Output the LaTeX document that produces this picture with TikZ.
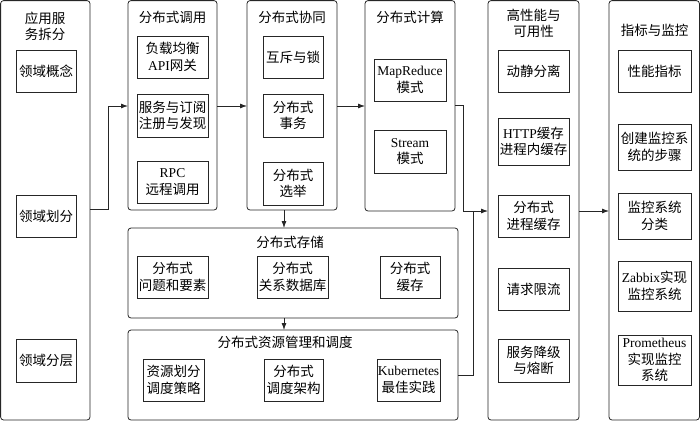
\documentclass[tikz,border=0pt]{standalone}
\usepackage{fontspec}
\setmainfont{Noto Sans CJK SC}
\newfontfamily\latfont{Liberation Serif}
\newcommand\lat[1]{{\latfont #1}}
\usetikzlibrary{arrows.meta}
\begin{document}
\begin{tikzpicture}[x=1pt,y=-1pt,
  font=\fontsize{13.5}{16.5}\selectfont,
  cont/.style={draw=black!85, rounded corners=3pt, line width=0.8pt, inner sep=0pt, outer sep=0pt},
  ibox/.style n args={2}{draw=black!85, line width=0.8pt, inner sep=0pt, outer sep=0pt,
      minimum width=#1pt, minimum height=#2pt, align=center},
  ttl/.style={align=center, inner sep=0pt},
  arr/.style={draw=black!85, line width=0.8pt, -{Latex[length=7pt,width=5pt]}},
  ln/.style={draw=black!85, line width=0.8pt}]
\useasboundingbox (0,0) rectangle (700,421);
% containers
\node[cont, minimum width=89.4pt, minimum height=419.4pt] (c1) at (45.3,210.3) {};
\node[cont, minimum width=89pt, minimum height=209.4pt] (c2) at (172.5,105.3) {};
\node[cont, minimum width=90pt, minimum height=209.4pt] (c3) at (292,105.3) {};
\node[cont, minimum width=90pt, minimum height=210.4pt] (c4) at (410,105.8) {};
\node[cont, minimum width=330pt, minimum height=90pt] (c5) at (293,273) {};
\node[cont, minimum width=330pt, minimum height=90pt] (c6) at (293,375) {};
\node[cont, minimum width=91pt, minimum height=419.4pt] (c7) at (533.5,210.3) {};
\node[cont, minimum width=90.4pt, minimum height=419.4pt] (c8) at (654.2,210.3) {};
% titles
\node[ttl] (t1) at (45,26.5) {应用服\\务拆分};
\node[ttl] (t2) at (172.5,17) {分布式调用};
\node[ttl] (t3) at (292,17) {分布式协同};
\node[ttl] (t4) at (410,17) {分布式计算};
\node[ttl] (t5) at (290,242) {分布式存储};
\node[ttl] (t6) at (285,342) {分布式资源管理和调度};
\node[ttl] (t7) at (533.5,23.5) {高性能与\\可用性};
\node[ttl] (t8) at (654.5,30) {指标与监控};
% column 1
\node[ibox={60}{42}] (a1) at (46,71) {领域概念};
\node[ibox={60}{42}] (a2) at (46,216) {领域划分};
\node[ibox={60}{43}] (a3) at (46,360.5) {领域分层};
% column 2
\node[ibox={71}{42}] (b1) at (172.5,57) {负载均衡\\\lat{API}网关};
\node[ibox={71}{43}] (b2) at (172.5,115.5) {服务与订阅\\注册与发现};
\node[ibox={71}{42}] (b3) at (172.5,182) {\lat{RPC}\\远程调用};
% column 3
\node[ibox={60}{42}] (d1) at (293,57) {互斥与锁};
\node[ibox={60}{43}] (d2) at (293,115.5) {分布式\\事务};
\node[ibox={60}{43}] (d3) at (293,183.5) {分布式\\选举};
% column 4
\node[ibox={72}{42}] (e1) at (410,80) {\lat{MapReduce}\\模式};
\node[ibox={72}{43}] (e2) at (410,151.5) {\lat{Stream}\\模式};
% storage
\node[ibox={71}{42}] (s1) at (172.5,277) {分布式\\问题和要素};
\node[ibox={71}{42}] (s2) at (292.5,277) {分布式\\关系数据库};
\node[ibox={60}{42}] (s3) at (410,277) {分布式\\缓存};
% resources
\node[ibox={61}{42}] (r1) at (173.5,380) {资源划分\\调度策略};
\node[ibox={59}{42}] (r2) at (293.5,380) {分布式\\调度架构};
\node[ibox={63}{42}] (r3) at (408.5,380) {\lat{Kubernetes}\\最佳实践};
% high performance
\node[ibox={71}{42}] (h1) at (533.5,71) {动静分离};
\node[ibox={71}{47}] (h2) at (533.5,141.5) {\lat{HTTP}缓存\\进程内缓存};
\node[ibox={71}{42}] (h3) at (533.5,216) {分布式\\进程缓存};
\node[ibox={71}{42}] (h4) at (533.5,289) {请求限流};
\node[ibox={71}{43}] (h5) at (533.5,360.5) {服务降级\\与熔断};
% monitoring
\node[ibox={73}{42}] (m1) at (654.5,71) {性能指标};
\node[ibox={73}{46}] (m2) at (654.5,147) {创建监控系\\统的步骤};
\node[ibox={73}{46}] (m3) at (654.5,216) {监控系统\\分类};
\node[ibox={73}{50}] (m4) at (654.5,286) {\lat{Zabbix}实现\\监控系统};
\node[ibox={73}{50}] (m5) at (654.5,360) {\lat{Prometheus}\\实现监控\\系统};
% helper coordinates
\coordinate (h106) at (0,106);
\coordinate (h211) at (0,211);
\coordinate (k1) at (108,209);
\coordinate (k2) at (463,105);
\coordinate (k3) at (473,375);
\coordinate (v1) at (284,0);
% connectors
\draw[arr] (c1.east |- k1) -- (k1) |- (c2.west |- h106);
\draw[arr] (c2.east |- h106) -- (c3.west |- h106);
\draw[arr] (c3.east |- h106) -- (c4.west |- h106);
\draw[arr] (c4.east |- k2) -- (k2) |- (c7.west |- h211);
\draw[ln] (c6.east |- k3) -- (k3) -- (k3 |- h211);
\draw[arr] (c7.east |- h211) -- (c8.west |- h211);
\draw[arr] (c3.south -| v1) -- (c5.north -| v1);
\draw[arr] (c5.south -| v1) -- (c6.north -| v1);
\end{tikzpicture}
\end{document}
